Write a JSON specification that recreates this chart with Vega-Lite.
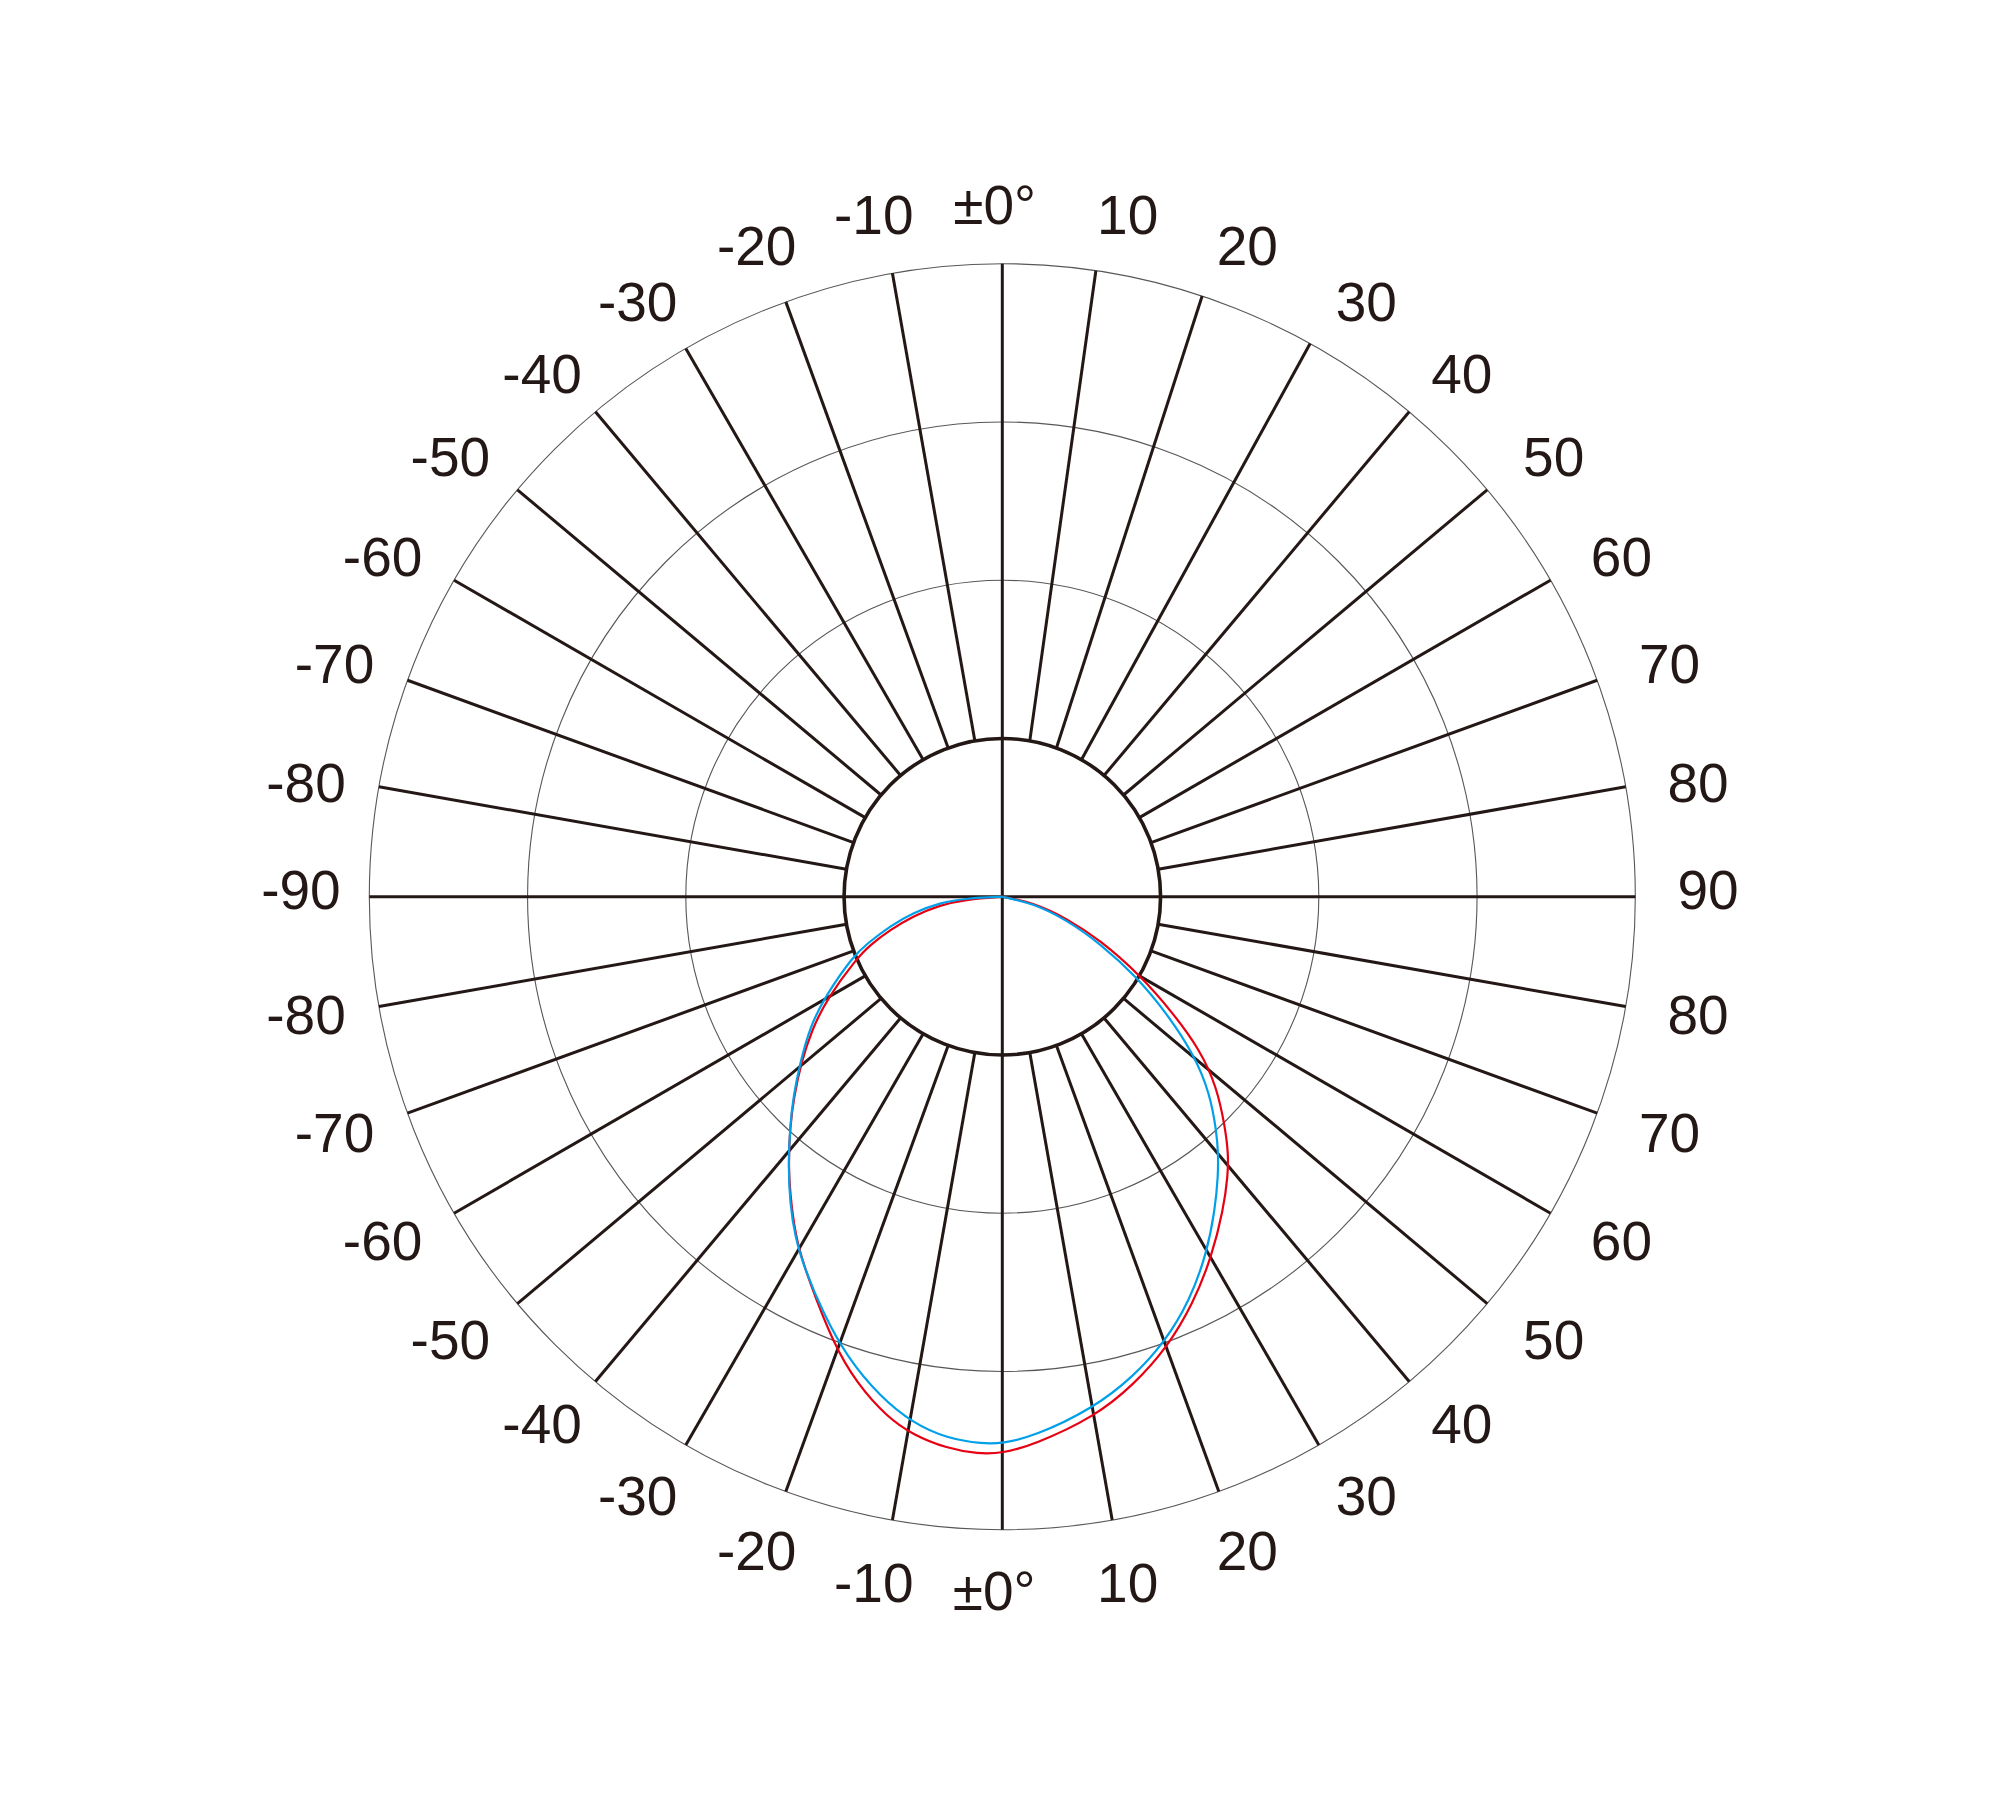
{
  "$schema": "https://vega.github.io/schema/vega-lite/v6.json",
  "width": 2000,
  "height": 1796,
  "autosize": {"type": "none"},
  "padding": 0,
  "background": "white",
  "config": {"view": {"stroke": null}},
  "datasets": {
    "rings": [{"r": 50}, {"r": 75}, {"r": 100}],
    "inner": [{"r": 25}],
    "spokes": [
      {"a": "10", "x1": 4.34, "y1": 24.62, "x2": 14.78, "y2": 98.90},
      {"a": "20", "x1": 8.55, "y1": 23.49, "x2": 31.57, "y2": 94.89},
      {"a": "30", "x1": 12.5, "y1": 21.65, "x2": 48.63, "y2": 87.38},
      {"a": "40", "x1": 16.07, "y1": 19.15, "x2": 64.28, "y2": 76.60},
      {"a": "50", "x1": 19.15, "y1": 16.07, "x2": 76.60, "y2": 64.28},
      {"a": "60", "x1": 21.65, "y1": 12.5, "x2": 86.60, "y2": 50.00},
      {"a": "70", "x1": 23.49, "y1": 8.55, "x2": 93.97, "y2": 34.20},
      {"a": "80", "x1": 24.62, "y1": 4.34, "x2": 98.48, "y2": 17.36},
      {"a": "-10", "x1": -4.34, "y1": 24.62, "x2": -17.36, "y2": 98.48},
      {"a": "-20", "x1": -8.55, "y1": 23.49, "x2": -34.20, "y2": 93.97},
      {"a": "-30", "x1": -12.5, "y1": 21.65, "x2": -50.00, "y2": 86.60},
      {"a": "-40", "x1": -16.07, "y1": 19.15, "x2": -64.28, "y2": 76.60},
      {"a": "-50", "x1": -19.15, "y1": 16.07, "x2": -76.60, "y2": 64.28},
      {"a": "-60", "x1": -21.65, "y1": 12.5, "x2": -86.60, "y2": 50.00},
      {"a": "-70", "x1": -23.49, "y1": 8.55, "x2": -93.97, "y2": 34.20},
      {"a": "-80", "x1": -24.62, "y1": 4.34, "x2": -98.48, "y2": 17.36},
      {"a": "b10", "x1": 4.34, "y1": -24.62, "x2": 17.36, "y2": -98.48},
      {"a": "b20", "x1": 8.55, "y1": -23.49, "x2": 34.20, "y2": -93.97},
      {"a": "b30", "x1": 12.5, "y1": -21.65, "x2": 50.00, "y2": -86.60},
      {"a": "b40", "x1": 16.07, "y1": -19.15, "x2": 64.28, "y2": -76.60},
      {"a": "b50", "x1": 19.15, "y1": -16.07, "x2": 76.60, "y2": -64.28},
      {"a": "b60", "x1": 21.65, "y1": -12.5, "x2": 86.60, "y2": -50.00},
      {"a": "b70", "x1": 23.49, "y1": -8.55, "x2": 93.97, "y2": -34.20},
      {"a": "b80", "x1": 24.62, "y1": -4.34, "x2": 98.48, "y2": -17.36},
      {"a": "b-10", "x1": -4.34, "y1": -24.62, "x2": -17.36, "y2": -98.48},
      {"a": "b-20", "x1": -8.55, "y1": -23.49, "x2": -34.20, "y2": -93.97},
      {"a": "b-30", "x1": -12.5, "y1": -21.65, "x2": -50.00, "y2": -86.60},
      {"a": "b-40", "x1": -16.07, "y1": -19.15, "x2": -64.28, "y2": -76.60},
      {"a": "b-50", "x1": -19.15, "y1": -16.07, "x2": -76.60, "y2": -64.28},
      {"a": "b-60", "x1": -21.65, "y1": -12.5, "x2": -86.60, "y2": -50.00},
      {"a": "b-70", "x1": -23.49, "y1": -8.55, "x2": -93.97, "y2": -34.20},
      {"a": "b-80", "x1": -24.62, "y1": -4.34, "x2": -98.48, "y2": -17.36},
      {"a": "v", "x1": 0, "y1": 100, "x2": 0, "y2": -100},
      {"a": "h", "x1": -100, "y1": 0, "x2": 100, "y2": 0}
    ],
    "curves": [
      {"s": "red", "i": 1, "x": 0, "y": 0},
      {"s": "red", "i": 2, "x": -5.62, "y": -0.41},
      {"s": "red", "i": 3, "x": -9.84, "y": -1.31},
      {"s": "red", "i": 4, "x": -14.06, "y": -3.05},
      {"s": "red", "i": 5, "x": -17.74, "y": -5.26},
      {"s": "red", "i": 6, "x": -20.90, "y": -7.63},
      {"s": "red", "i": 7, "x": -23.11, "y": -9.89},
      {"s": "red", "i": 8, "x": -27.64, "y": -16.05},
      {"s": "red", "i": 9, "x": -30.11, "y": -21.06},
      {"s": "red", "i": 10, "x": -31.80, "y": -26.32},
      {"s": "red", "i": 11, "x": -32.91, "y": -31.60},
      {"s": "red", "i": 12, "x": -33.54, "y": -36.33},
      {"s": "red", "i": 13, "x": -33.81, "y": -42.65},
      {"s": "red", "i": 14, "x": -33.38, "y": -48.44},
      {"s": "red", "i": 15, "x": -32.48, "y": -54.76},
      {"s": "red", "i": 16, "x": -30.38, "y": -61.07},
      {"s": "red", "i": 17, "x": -26.70, "y": -70.55},
      {"s": "red", "i": 18, "x": -23.00, "y": -76.87},
      {"s": "red", "i": 19, "x": -18.26, "y": -82.15},
      {"s": "red", "i": 20, "x": -14.06, "y": -85.04},
      {"s": "red", "i": 21, "x": -8.78, "y": -87.14},
      {"s": "red", "i": 22, "x": -3.8, "y": -88.04},
      {"s": "red", "i": 23, "x": 0, "y": -87.93},
      {"s": "red", "i": 24, "x": 4.90, "y": -86.62},
      {"s": "red", "i": 25, "x": 14.64, "y": -82.15},
      {"s": "red", "i": 26, "x": 20.70, "y": -77.14},
      {"s": "red", "i": 27, "x": 25.97, "y": -71.34},
      {"s": "red", "i": 28, "x": 30.17, "y": -64.23},
      {"s": "red", "i": 29, "x": 33.08, "y": -56.87},
      {"s": "red", "i": 30, "x": 34.91, "y": -49.49},
      {"s": "red", "i": 31, "x": 35.65, "y": -44.0},
      {"s": "red", "i": 32, "x": 35.70, "y": -40.5},
      {"s": "red", "i": 33, "x": 35.18, "y": -36.33},
      {"s": "red", "i": 34, "x": 33.87, "y": -30.02},
      {"s": "red", "i": 35, "x": 31.23, "y": -24.21},
      {"s": "red", "i": 36, "x": 27.01, "y": -18.43},
      {"s": "red", "i": 37, "x": 21.75, "y": -12.37},
      {"s": "red", "i": 38, "x": 15.43, "y": -6.84},
      {"s": "red", "i": 39, "x": 10.17, "y": -3.42},
      {"s": "red", "i": 40, "x": 4.90, "y": -0.95},
      {"s": "red", "i": 41, "x": 0, "y": 0},
      {"s": "blue", "i": 1, "x": 0, "y": 0},
      {"s": "blue", "i": 2, "x": -5.62, "y": -0.25},
      {"s": "blue", "i": 3, "x": -9.84, "y": -0.95},
      {"s": "blue", "i": 4, "x": -14.06, "y": -2.53},
      {"s": "blue", "i": 5, "x": -17.74, "y": -4.63},
      {"s": "blue", "i": 6, "x": -21.42, "y": -7.47},
      {"s": "blue", "i": 7, "x": -23.54, "y": -9.37},
      {"s": "blue", "i": 8, "x": -28.01, "y": -15.80},
      {"s": "blue", "i": 9, "x": -30.38, "y": -20.54},
      {"s": "blue", "i": 10, "x": -31.96, "y": -26.32},
      {"s": "blue", "i": 11, "x": -33.02, "y": -31.60},
      {"s": "blue", "i": 12, "x": -33.54, "y": -36.33},
      {"s": "blue", "i": 13, "x": -33.81, "y": -42.65},
      {"s": "blue", "i": 14, "x": -33.54, "y": -48.44},
      {"s": "blue", "i": 15, "x": -32.75, "y": -53.71},
      {"s": "blue", "i": 16, "x": -31.17, "y": -58.97},
      {"s": "blue", "i": 17, "x": -28.28, "y": -65.81},
      {"s": "blue", "i": 18, "x": -24.58, "y": -72.67},
      {"s": "blue", "i": 19, "x": -19.32, "y": -78.99},
      {"s": "blue", "i": 20, "x": -14.06, "y": -83.19},
      {"s": "blue", "i": 21, "x": -8.78, "y": -85.56},
      {"s": "blue", "i": 22, "x": -3.0, "y": -86.46},
      {"s": "blue", "i": 23, "x": 0, "y": -86.35},
      {"s": "blue", "i": 24, "x": 4.90, "y": -85.31},
      {"s": "blue", "i": 25, "x": 14.38, "y": -80.82},
      {"s": "blue", "i": 26, "x": 20.70, "y": -75.83},
      {"s": "blue", "i": 27, "x": 25.70, "y": -70.30},
      {"s": "blue", "i": 28, "x": 29.65, "y": -63.71},
      {"s": "blue", "i": 29, "x": 32.29, "y": -56.34},
      {"s": "blue", "i": 30, "x": 33.60, "y": -49.49},
      {"s": "blue", "i": 31, "x": 34.10, "y": -44.0},
      {"s": "blue", "i": 32, "x": 34.10, "y": -40.5},
      {"s": "blue", "i": 33, "x": 33.87, "y": -37.38},
      {"s": "blue", "i": 34, "x": 32.81, "y": -31.06},
      {"s": "blue", "i": 35, "x": 30.17, "y": -24.74},
      {"s": "blue", "i": 36, "x": 25.97, "y": -18.43},
      {"s": "blue", "i": 37, "x": 21.23, "y": -12.64},
      {"s": "blue", "i": 38, "x": 15.43, "y": -7.37},
      {"s": "blue", "i": 39, "x": 10.17, "y": -3.68},
      {"s": "blue", "i": 40, "x": 4.90, "y": -1.05},
      {"s": "blue", "i": 41, "x": 0, "y": 0}
    ],
    "labels": [
      {"t": "±0°", "tx": -1.2, "ty": 109.5},
      {"t": "10", "tx": 19.8, "ty": 107.8},
      {"t": "-10", "tx": -20.3, "ty": 107.8},
      {"t": "20", "tx": 38.7, "ty": 103.0},
      {"t": "-20", "tx": -38.8, "ty": 103.0},
      {"t": "30", "tx": 57.5, "ty": 94.1},
      {"t": "-30", "tx": -57.6, "ty": 94.1},
      {"t": "40", "tx": 72.6, "ty": 82.8},
      {"t": "-40", "tx": -72.7, "ty": 82.8},
      {"t": "50", "tx": 87.1, "ty": 69.7},
      {"t": "-50", "tx": -87.2, "ty": 69.7},
      {"t": "60", "tx": 97.8, "ty": 53.8},
      {"t": "-60", "tx": -97.9, "ty": 53.8},
      {"t": "70", "tx": 105.4, "ty": 36.9},
      {"t": "-70", "tx": -105.5, "ty": 36.9},
      {"t": "80", "tx": 109.9, "ty": 18.1},
      {"t": "-80", "tx": -110.0, "ty": 18.1},
      {"t": "90", "tx": 111.5, "ty": 1.2},
      {"t": "-90", "tx": -110.8, "ty": 1.2},
      {"t": "80", "tx": 109.9, "ty": -18.5},
      {"t": "-80", "tx": -110.0, "ty": -18.5},
      {"t": "70", "tx": 105.4, "ty": -37.1},
      {"t": "-70", "tx": -105.5, "ty": -37.1},
      {"t": "60", "tx": 97.8, "ty": -54.2},
      {"t": "-60", "tx": -97.9, "ty": -54.2},
      {"t": "50", "tx": 87.1, "ty": -69.9},
      {"t": "-50", "tx": -87.2, "ty": -69.9},
      {"t": "40", "tx": 72.6, "ty": -83.2},
      {"t": "-40", "tx": -72.7, "ty": -83.2},
      {"t": "30", "tx": 57.5, "ty": -94.5},
      {"t": "-30", "tx": -57.6, "ty": -94.5},
      {"t": "20", "tx": 38.7, "ty": -103.2},
      {"t": "-20", "tx": -38.8, "ty": -103.2},
      {"t": "10", "tx": 19.8, "ty": -108.2},
      {"t": "-10", "tx": -20.3, "ty": -108.2},
      {"t": "±0°", "tx": -1.3, "ty": -109.5}
    ]
  },
  "layer": [
    {
      "data": {"name": "rings"},
      "mark": {"type": "arc", "theta": 6.2832, "filled": false, "stroke": "#595757", "strokeWidth": 1.1},
      "encoding": {
        "x": {"datum": 0, "type": "quantitative", "scale": {"domain": [-158.34, 157.61], "nice": false, "zero": false}, "axis": null},
        "y": {"datum": 0, "type": "quantitative", "scale": {"domain": [-142.07, 141.66], "nice": false, "zero": false}, "axis": null},
        "radius": {"field": "r", "type": "quantitative", "stack": null, "scale": {"type": "linear", "domain": [0, 100], "range": [0, 633], "zero": true}}
      }
    },
    {
      "data": {"name": "spokes"},
      "mark": {"type": "rule", "stroke": "#231815", "strokeWidth": 3},
      "encoding": {
        "x": {"field": "x1", "type": "quantitative", "scale": {"domain": [-158.34, 157.61], "nice": false, "zero": false}, "axis": null},
        "y": {"field": "y1", "type": "quantitative", "scale": {"domain": [-142.07, 141.66], "nice": false, "zero": false}, "axis": null},
        "x2": {"field": "x2"},
        "y2": {"field": "y2"}
      }
    },
    {
      "data": {"name": "inner"},
      "mark": {"type": "arc", "theta": 6.2832, "filled": false, "stroke": "#231815", "strokeWidth": 3.6},
      "encoding": {
        "x": {"datum": 0, "type": "quantitative", "scale": {"domain": [-158.34, 157.61], "nice": false, "zero": false}, "axis": null},
        "y": {"datum": 0, "type": "quantitative", "scale": {"domain": [-142.07, 141.66], "nice": false, "zero": false}, "axis": null},
        "radius": {"field": "r", "type": "quantitative", "stack": null, "scale": {"type": "linear", "domain": [0, 100], "range": [0, 633], "zero": true}}
      }
    },
    {
      "data": {"name": "curves"},
      "mark": {"type": "line", "interpolate": "basis", "strokeWidth": 2.2},
      "encoding": {
        "x": {"field": "x", "type": "quantitative", "scale": {"domain": [-158.34, 157.61], "nice": false, "zero": false}, "axis": null},
        "y": {"field": "y", "type": "quantitative", "scale": {"domain": [-142.07, 141.66], "nice": false, "zero": false}, "axis": null},
        "order": {"field": "i", "type": "quantitative"},
        "color": {"field": "s", "type": "nominal", "scale": {"domain": ["red", "blue"], "range": ["#e60012", "#00a0e9"]}, "legend": null}
      }
    },
    {
      "data": {"name": "labels"},
      "mark": {"type": "text", "font": "Liberation Sans", "fontSize": 55, "color": "#231815", "align": "center", "baseline": "middle", "dy": 3},
      "encoding": {
        "x": {"field": "tx", "type": "quantitative", "scale": {"domain": [-158.34, 157.61], "nice": false, "zero": false}, "axis": null},
        "y": {"field": "ty", "type": "quantitative", "scale": {"domain": [-142.07, 141.66], "nice": false, "zero": false}, "axis": null},
        "text": {"field": "t", "type": "nominal"}
      }
    }
  ]
}
